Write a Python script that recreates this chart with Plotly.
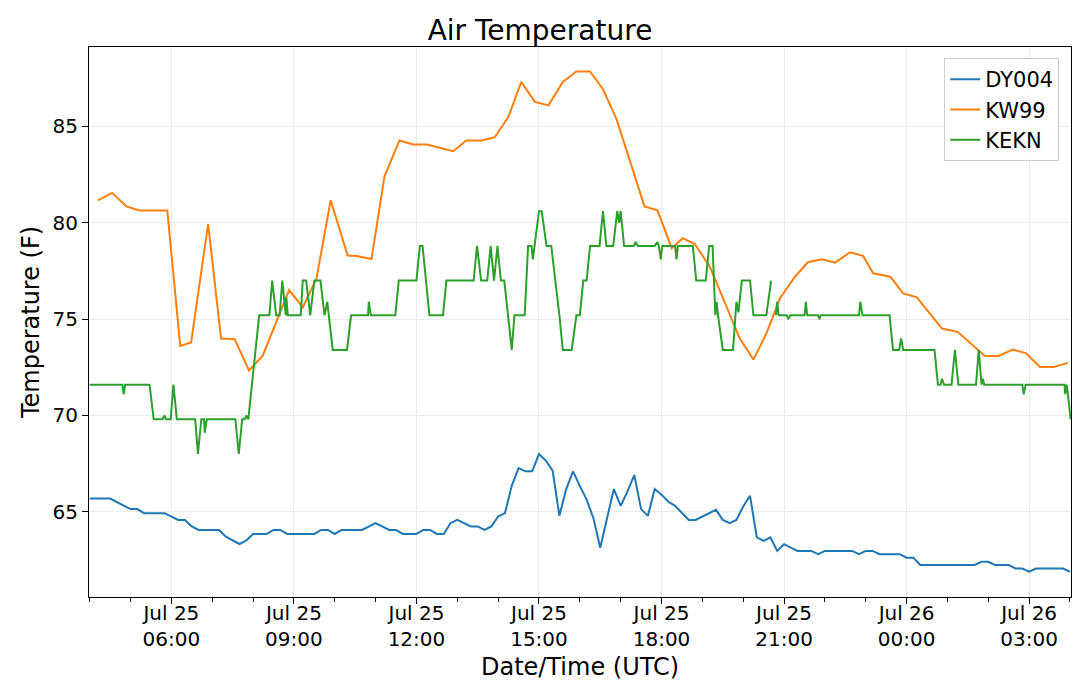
import pandas as pd
import plotly.graph_objects as go

# DY004 - 10 minute station data
dy004_time = [
    "2019-07-25 04:00", "2019-07-25 04:30", "2019-07-25 05:00", "2019-07-25 05:10", "2019-07-25 05:20",
    "2019-07-25 05:50", "2019-07-25 06:10", "2019-07-25 06:20", "2019-07-25 06:30", "2019-07-25 06:40",
    "2019-07-25 07:10", "2019-07-25 07:20", "2019-07-25 07:40", "2019-07-25 07:50", "2019-07-25 08:00",
    "2019-07-25 08:20", "2019-07-25 08:30", "2019-07-25 08:40", "2019-07-25 08:50", "2019-07-25 09:30",
    "2019-07-25 09:40", "2019-07-25 09:50", "2019-07-25 10:00", "2019-07-25 10:10", "2019-07-25 10:40",
    "2019-07-25 11:00", "2019-07-25 11:20", "2019-07-25 11:30", "2019-07-25 11:40", "2019-07-25 12:00",
    "2019-07-25 12:10", "2019-07-25 12:20", "2019-07-25 12:30", "2019-07-25 12:40", "2019-07-25 12:50",
    "2019-07-25 13:00", "2019-07-25 13:20", "2019-07-25 13:30", "2019-07-25 13:40", "2019-07-25 13:50",
    "2019-07-25 14:00", "2019-07-25 14:10", "2019-07-25 14:20", "2019-07-25 14:30", "2019-07-25 14:40",
    "2019-07-25 14:50", "2019-07-25 15:00", "2019-07-25 15:10", "2019-07-25 15:20", "2019-07-25 15:30",
    "2019-07-25 15:40", "2019-07-25 15:50", "2019-07-25 16:00", "2019-07-25 16:10", "2019-07-25 16:20",
    "2019-07-25 16:30", "2019-07-25 16:40", "2019-07-25 16:50", "2019-07-25 17:00", "2019-07-25 17:10",
    "2019-07-25 17:20", "2019-07-25 17:30", "2019-07-25 17:40", "2019-07-25 17:50", "2019-07-25 18:00",
    "2019-07-25 18:10", "2019-07-25 18:20", "2019-07-25 18:30", "2019-07-25 18:40", "2019-07-25 18:50",
    "2019-07-25 19:00", "2019-07-25 19:10", "2019-07-25 19:20", "2019-07-25 19:30", "2019-07-25 19:40",
    "2019-07-25 19:50", "2019-07-25 20:00", "2019-07-25 20:10", "2019-07-25 20:20", "2019-07-25 20:30",
    "2019-07-25 20:40", "2019-07-25 20:50", "2019-07-25 21:00", "2019-07-25 21:10", "2019-07-25 21:20",
    "2019-07-25 21:40", "2019-07-25 21:50", "2019-07-25 22:00", "2019-07-25 22:40", "2019-07-25 22:50",
    "2019-07-25 23:00", "2019-07-25 23:10", "2019-07-25 23:20", "2019-07-25 23:50", "2019-07-26 00:00",
    "2019-07-26 00:10", "2019-07-26 00:20", "2019-07-26 01:40", "2019-07-26 01:50", "2019-07-26 02:00",
    "2019-07-26 02:10", "2019-07-26 02:30", "2019-07-26 02:40", "2019-07-26 02:50", "2019-07-26 03:00",
    "2019-07-26 03:10", "2019-07-26 03:50", "2019-07-26 04:00",
]
dy004_temp = [
    65.69, 65.69, 65.14, 65.14, 64.93, 64.93, 64.58, 64.58, 64.24, 64.06,
    64.06, 63.71, 63.33, 63.51, 63.85, 63.85, 64.06, 64.06, 63.85, 63.85,
    64.06, 64.06, 63.85, 64.06, 64.06, 64.41, 64.06, 64.06, 63.85, 63.85,
    64.06, 64.06, 63.85, 63.85, 64.41, 64.58, 64.24, 64.24, 64.06, 64.24,
    64.76, 64.93, 66.35, 67.27, 67.10, 67.10, 68.00, 67.66, 67.14, 64.79,
    66.18, 67.10, 66.35, 65.63, 64.67, 63.14, 64.67, 66.18, 65.31, 66.06,
    66.91, 65.14, 64.79, 66.18, 65.89, 65.52, 65.31, 64.96, 64.58, 64.58,
    64.76, 64.93, 65.10, 64.58, 64.41, 64.58, 65.28, 65.83, 63.67, 63.49,
    63.67, 62.97, 63.32, 63.14, 62.97, 62.97, 62.80, 62.97, 62.97, 62.80,
    62.97, 62.97, 62.80, 62.80, 62.62, 62.62, 62.24, 62.24, 62.41, 62.41,
    62.24, 62.24, 62.06, 62.06, 61.89, 62.06, 62.06, 61.89,
]

# KW99 - roughly 20 minute obs
kw99_time = [
    "2019-07-25 04:12", "2019-07-25 04:33", "2019-07-25 04:54", "2019-07-25 05:13", "2019-07-25 05:54",
    "2019-07-25 06:13", "2019-07-25 06:29", "2019-07-25 06:54", "2019-07-25 07:13", "2019-07-25 07:33",
    "2019-07-25 07:54", "2019-07-25 08:14", "2019-07-25 08:53", "2019-07-25 09:13", "2019-07-25 09:33",
    "2019-07-25 09:54", "2019-07-25 10:19", "2019-07-25 10:32", "2019-07-25 10:54", "2019-07-25 11:13",
    "2019-07-25 11:35", "2019-07-25 11:55", "2019-07-25 12:15", "2019-07-25 12:54", "2019-07-25 13:13",
    "2019-07-25 13:36", "2019-07-25 13:55", "2019-07-25 14:15", "2019-07-25 14:34", "2019-07-25 14:54",
    "2019-07-25 15:14", "2019-07-25 15:35", "2019-07-25 15:55", "2019-07-25 16:15", "2019-07-25 16:34",
    "2019-07-25 16:54", "2019-07-25 17:35", "2019-07-25 17:54", "2019-07-25 18:15", "2019-07-25 18:31",
    "2019-07-25 18:49", "2019-07-25 19:11", "2019-07-25 19:55", "2019-07-25 20:15", "2019-07-25 20:34",
    "2019-07-25 20:54", "2019-07-25 21:16", "2019-07-25 21:35", "2019-07-25 21:55", "2019-07-25 22:15",
    "2019-07-25 22:37", "2019-07-25 22:56", "2019-07-25 23:11", "2019-07-25 23:36", "2019-07-25 23:55",
    "2019-07-26 00:15", "2019-07-26 00:52", "2019-07-26 01:15", "2019-07-26 01:55", "2019-07-26 02:15",
    "2019-07-26 02:36", "2019-07-26 02:55", "2019-07-26 03:16", "2019-07-26 03:36", "2019-07-26 03:57",
]
kw99_temp = [
    81.16, 81.55, 80.85, 80.64, 80.64, 73.61, 73.79, 79.93, 73.99, 73.96,
    72.34, 73.09, 76.51, 75.61, 77.08, 81.16, 78.30, 78.28, 78.12, 82.40,
    84.27, 84.06, 84.06, 83.71, 84.27, 84.27, 84.44, 85.48, 87.31, 86.27,
    86.09, 87.31, 87.85, 87.85, 86.93, 85.36, 80.85, 80.64, 78.68, 79.20,
    78.89, 77.72, 73.99, 72.90, 74.25, 76.08, 77.20, 77.95, 78.11, 77.93,
    78.47, 78.28, 77.38, 77.20, 76.33, 76.13, 74.51, 74.34, 73.09, 73.09,
    73.42, 73.24, 72.52, 72.52, 72.73,
]

# KEKN - ASOS, whole degree C converted to F (None = missing obs)
kekn_time = [
    "2019-07-25 04:00", "2019-07-25 04:48", "2019-07-25 04:50", "2019-07-25 04:52", "2019-07-25 05:28",
    "2019-07-25 05:34", "2019-07-25 05:47", "2019-07-25 05:50", "2019-07-25 05:52", "2019-07-25 05:59",
    "2019-07-25 06:03", "2019-07-25 06:08", "2019-07-25 06:35", "2019-07-25 06:39", "2019-07-25 06:44",
    "2019-07-25 06:48", "2019-07-25 06:49", "2019-07-25 06:52", "2019-07-25 07:34", "2019-07-25 07:39",
    "2019-07-25 07:44", "2019-07-25 07:48", "2019-07-25 07:50", "2019-07-25 07:53", "2019-07-25 08:09",
    "2019-07-25 08:24", "2019-07-25 08:28", "2019-07-25 08:34", "2019-07-25 08:39", "2019-07-25 08:43",
    "2019-07-25 08:48", "2019-07-25 08:49", "2019-07-25 08:51", "2019-07-25 09:10", "2019-07-25 09:13",
    "2019-07-25 09:18", "2019-07-25 09:24", "2019-07-25 09:30", "2019-07-25 09:39", "2019-07-25 09:45",
    "2019-07-25 09:49", "2019-07-25 09:51", "2019-07-25 09:57", "2019-07-25 10:18", "2019-07-25 10:24",
    "2019-07-25 10:49", "2019-07-25 10:50", "2019-07-25 10:53", "2019-07-25 11:29", "2019-07-25 11:34",
    "2019-07-25 12:00", "2019-07-25 12:05", "2019-07-25 12:09", "2019-07-25 12:19", "2019-07-25 12:39",
    "2019-07-25 12:44", "2019-07-25 13:24", "2019-07-25 13:29", "2019-07-25 13:35", "2019-07-25 13:44",
    "2019-07-25 13:49", "2019-07-25 13:54", "2019-07-25 13:59", "2019-07-25 14:04", "2019-07-25 14:09",
    "2019-07-25 14:20", "2019-07-25 14:24", "2019-07-25 14:39", "2019-07-25 14:44", "2019-07-25 14:49",
    "2019-07-25 14:51", "2019-07-25 15:00", "2019-07-25 15:04", "2019-07-25 15:11", "2019-07-25 15:18",
    "2019-07-25 15:30", "2019-07-25 15:35", "2019-07-25 15:48", "2019-07-25 15:55", "2019-07-25 16:00",
    "2019-07-25 16:05", "2019-07-25 16:10", "2019-07-25 16:15", "2019-07-25 16:29", "2019-07-25 16:34",
    "2019-07-25 16:39", "2019-07-25 16:49", "2019-07-25 16:55", "2019-07-25 16:58", "2019-07-25 17:00",
    "2019-07-25 17:05", "2019-07-25 17:19", "2019-07-25 17:22", "2019-07-25 17:25", "2019-07-25 17:50",
    "2019-07-25 17:54", "2019-07-25 17:56", "2019-07-25 17:59", "2019-07-25 18:01", "2019-07-25 18:20",
    "2019-07-25 18:22", "2019-07-25 18:24", "2019-07-25 18:46", "2019-07-25 18:51", "2019-07-25 19:05",
    "2019-07-25 19:10", "2019-07-25 19:15", "2019-07-25 19:19", "2019-07-25 19:21", "2019-07-25 19:23",
    "2019-07-25 19:30", "2019-07-25 19:45", "2019-07-25 19:50", "2019-07-25 19:53", "2019-07-25 19:58",
    "2019-07-25 20:10", "2019-07-25 20:15", "2019-07-25 20:34", "2019-07-25 20:41", "2019-07-25 20:45",
    "2019-07-25 20:48", "2019-07-25 20:50", "2019-07-25 20:52", "2019-07-25 21:04", "2019-07-25 21:06",
    "2019-07-25 21:09", "2019-07-25 21:30", "2019-07-25 21:32", "2019-07-25 21:34", "2019-07-25 21:50",
    "2019-07-25 21:52", "2019-07-25 21:54", "2019-07-25 22:50", "2019-07-25 22:52", "2019-07-25 22:55",
    "2019-07-25 23:35", "2019-07-25 23:40", "2019-07-25 23:49", "2019-07-25 23:52", "2019-07-25 23:55",
    "2019-07-26 00:41", "2019-07-26 00:46", "2019-07-26 00:50", "2019-07-26 00:52", "2019-07-26 00:55",
    "2019-07-26 01:06", "2019-07-26 01:11", "2019-07-26 01:16", "2019-07-26 01:42", "2019-07-26 01:46",
    "2019-07-26 01:50", "2019-07-26 01:52", "2019-07-26 01:54", "2019-07-26 02:50", "2019-07-26 02:52",
    "2019-07-26 02:55", "2019-07-26 03:52", "2019-07-26 03:53", "2019-07-26 03:55", "2019-07-26 03:57",
    "2019-07-26 04:01",
]
kekn_temp = [
    71.6, 71.6, 71.1, 71.6, 71.6, 69.8, 69.8, 70.0, 69.8, 69.8,
    71.6, 69.8, 69.8, 68.0, 69.8, 69.8, 69.1, 69.8, 69.8, 68.0,
    69.8, 69.8, 70.0, 69.8, 75.2, 75.2, 77.0, 75.2, 75.2, 77.0,
    75.2, 76.1, 75.2, 75.2, 77.0, 77.0, 75.2, 77.0, 77.0, 75.2,
    75.9, 75.2, 73.4, 73.4, 75.2, 75.2, 75.9, 75.2, 75.2, 77.0,
    77.0, 78.8, 78.8, 75.2, 75.2, 77.0, 77.0, 78.8, 77.0, 77.0,
    78.8, 77.0, 78.8, 77.0, 77.0, 73.4, 75.2, 75.2, 78.8, 78.8,
    78.1, 80.6, 80.6, 78.8, 78.8, 75.2, 73.4, 73.4, 75.2, 75.2,
    77.0, 77.0, 78.8, 78.8, 80.6, 78.8, 78.8, 80.6, 80.0, 80.6,
    78.8, 78.8, 79.0, 78.8, 78.8, 79.0, 78.8, 78.1, 78.8, 78.8,
    78.1, 78.8, 78.8, 77.0, 77.0, 78.8, 78.8, 75.2, 75.9, 75.2,
    73.4, 73.4, 75.9, 75.35, 77.0, 77.0, 75.2, 75.2, 77.0, None,
    75.2, 75.9, 75.2, 75.2, 75.0, 75.2, 75.2, 75.9, 75.2, 75.2,
    75.0, 75.2, 75.2, 75.9, 75.2, 75.2, 73.4, 73.4, 74.0, 73.4,
    73.4, 71.6, 71.6, 71.9, 71.6, 71.6, 73.4, 71.6, 71.6, 73.4,
    71.6, 71.9, 71.6, 71.6, 71.1, 71.6, 71.6, 71.1, 71.6, 71.1,
    69.8,
]

font = "DejaVu Sans"

fig = go.Figure()
fig.add_trace(go.Scatter(x=pd.to_datetime(dy004_time), y=dy004_temp, mode="lines",
                         name="DY004", line=dict(color="#1f77b4", width=2)))
fig.add_trace(go.Scatter(x=pd.to_datetime(kw99_time), y=kw99_temp, mode="lines",
                         name="KW99", line=dict(color="#ff7f0e", width=2)))
fig.add_trace(go.Scatter(x=pd.to_datetime(kekn_time), y=kekn_temp, mode="lines",
                         name="KEKN", line=dict(color="#2ca02c", width=2),
                         connectgaps=False))

# page body has an 8px margin, so the figure is sized/margined to land the
# plot box where the reference has it
fig.update_layout(
    width=1064, height=676,
    plot_bgcolor="white", paper_bgcolor="white",
    margin=dict(l=81, r=1, t=39, b=87),
    font=dict(family=font, size=20, color="black"),
    title=dict(text="Air Temperature", x=0.5, xanchor="center", y=0.982, yanchor="top",
               font=dict(size=28, color="black")),
    legend=dict(x=0.988, y=0.98, xanchor="right", yanchor="top",
                bgcolor="rgba(255,255,255,0.8)", bordercolor="#cccccc", borderwidth=1,
                font=dict(size=21)),
    showlegend=True,
)
# x-axis title as an annotation so it can sit just under the two-line tick labels
fig.add_annotation(text="Date/Time (UTC)", x=0.5, xref="paper", y=-0.127, yref="paper",
                   xanchor="center", yanchor="middle", showarrow=False,
                   font=dict(size=24, color="black"))
fig.update_xaxes(
    automargin=False,
    range=["2019-07-25 03:59", "2019-07-26 04:01:30"],
    tick0="2019-07-25 00:00", dtick=3 * 3600000, tickformat="%b %d<br>%H:%M",
    ticks="outside", ticklen=6, tickcolor="black", ticklabelstandoff=-8,
    minor=dict(dtick=3600000, ticks="outside", ticklen=4, tickcolor="black", showgrid=False),
    showgrid=True, gridcolor="#ebebeb", gridwidth=1,
    showline=True, linecolor="black", linewidth=1, mirror=True, zeroline=False,
)
fig.update_yaxes(
    title=dict(text="Temperature (F)", font=dict(size=24), standoff=6),
    automargin=False,
    range=[60.58, 89.12], tickvals=[65, 70, 75, 80, 85],
    ticks="outside", ticklen=6, tickcolor="black",
    showgrid=True, gridcolor="#ebebeb", gridwidth=1,
    showline=True, linecolor="black", linewidth=1, mirror=True, zeroline=False,
)

fig.write_html("out.html")
